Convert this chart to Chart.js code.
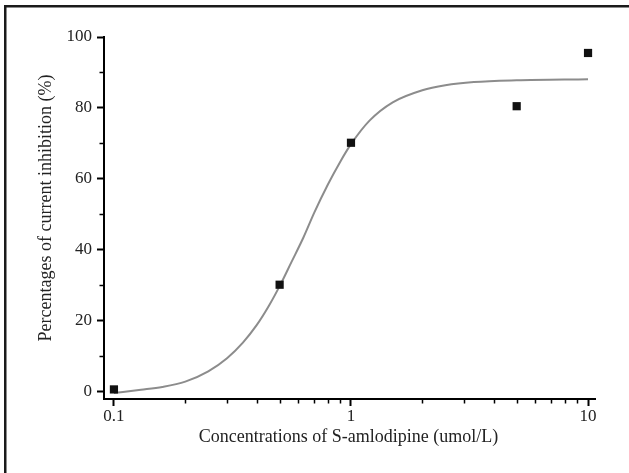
<!DOCTYPE html>
<html>
<head>
<meta charset="utf-8">
<script src="https://cdn.jsdelivr.net/npm/chart.js@4.4.1/dist/chart.umd.min.js"></script>
<style>
  html, body { margin: 0; padding: 0; background: #fff; }
  #wrap { position: relative; width: 629px; height: 473px; }
</style>
</head>
<body>
<div id="wrap"><canvas id="chart"></canvas></div>
<script>
// measured points
const concentrations = [0.1, 0.5, 1, 5, 10];
const inhibition = [0.7, 30.2, 70.2, 80.5, 95.5];

// fitted curve
const curveX = [0.1, 0.13, 0.16, 0.2, 0.25, 0.3, 0.35, 0.4, 0.45, 0.5, 0.56, 0.63, 0.7, 0.8, 0.9, 1.0, 1.2, 1.5, 2.0, 2.5, 3.3, 5, 10];
const curveY = [-0.3, 0.6, 1.4, 2.9, 5.8, 9.5, 13.9, 18.8, 24.2, 29.8, 36.5, 43.5, 50.5, 58.5, 64.8, 69.8, 76.5, 81.6, 85.0, 86.4, 87.3, 87.8, 88.1];

const xTickValues = [0.1, 1, 10];
const xTickLabels = ['0.1', '1', '10'];
const yTickValues = [0, 20, 40, 60, 80, 100];
const yTickLabels = ['0', '20', '40', '60', '80', '100'];

const xTitle = 'Concentrations of S-amlodipine (umol/L)';
const yTitle = 'Percentages of current inhibition (%)';

const serif = "'Liberation Serif', 'DejaVu Serif', serif";

// minor ticks: 2..9 in each decade, and odd tens on y
const xMinor = [];
[0.1, 1].forEach(d => { for (let k = 2; k <= 9; k++) xMinor.push(d * k); });
const yMinor = [10, 30, 50, 70, 90];

const framePlugin = {
  id: 'frame',
  beforeDraw(chart) {
    const ctx = chart.ctx;
    ctx.save();
    ctx.fillStyle = '#fff';
    ctx.fillRect(0, 0, chart.width, chart.height);
    ctx.fillStyle = '#1a1a1a';
    ctx.fillRect(4, 5, chart.width - 4, 2.5);
    ctx.fillRect(4, 5, 2.5, chart.height - 5);
    ctx.restore();
  },
  afterDraw(chart) {
    const ctx = chart.ctx;
    const xs = chart.scales.x, ys = chart.scales.y;
    const area = chart.chartArea;
    ctx.save();
    ctx.strokeStyle = '#000';
    ctx.lineWidth = 1.5;
    ctx.beginPath();
    xMinor.forEach(v => {
      const px = Math.round(xs.getPixelForValue(v)) + 0.5;
      ctx.moveTo(px, area.bottom);
      ctx.lineTo(px, area.bottom + 4.5);
    });
    yMinor.forEach(v => {
      const py = Math.round(ys.getPixelForValue(v)) + 0.5;
      ctx.moveTo(area.left, py);
      ctx.lineTo(area.left - 4.5, py);
    });
    ctx.stroke();

    // axis titles
    ctx.fillStyle = '#222';
    ctx.font = '18px ' + serif;
    ctx.textAlign = 'center';
    ctx.textBaseline = 'middle';
    ctx.fillText(xTitle, (area.left + area.right) / 2 - 1, 437);
    ctx.translate(46, 208);
    ctx.rotate(-Math.PI / 2);
    ctx.fillText(yTitle, 0, 0);
    ctx.restore();
  }
};

new Chart(document.getElementById('chart'), {
  type: 'scatter',
  data: {
    datasets: [
      {
        label: 'fit',
        data: curveX.map((x, i) => ({ x: x, y: curveY[i] })),
        showLine: true,
        borderColor: '#8c8c8c',
        borderWidth: 2,
        pointRadius: 0,
        cubicInterpolationMode: 'monotone',
        order: 2
      },
      {
        label: 'measured',
        data: concentrations.map((x, i) => ({ x: x, y: inhibition[i] })),
        pointStyle: 'rect',
        pointRadius: 5.8,
        backgroundColor: '#111',
        borderColor: '#111',
        borderWidth: 0,
        order: 1
      }
    ]
  },
  options: {
    responsive: true,
    maintainAspectRatio: false,
    animation: false,
    layout: { padding: { left: 0, right: 34, top: 37, bottom: 0 } },
    plugins: {
      legend: { display: false },
      tooltip: { enabled: false }
    },
    scales: {
      x: {
        type: 'logarithmic',
        min: 0.0908,
        max: 10.7,
        afterBuildTicks: s => { s.ticks = xTickValues.map(v => ({ value: v })); },
        afterFit: s => { s.height = 74; },
        ticks: {
          callback: v => xTickLabels[xTickValues.indexOf(v)],
          color: '#222',
          font: { family: serif, size: 17 },
          padding: 0,
          autoSkip: false,
          maxRotation: 0
        },
        grid: { display: true, drawOnChartArea: false, drawTicks: true, tickLength: 7, tickWidth: 2, tickColor: '#000' },
        border: { display: true, color: '#000', width: 2 }
      },
      y: {
        min: -2,
        max: 100,
        afterBuildTicks: s => { s.ticks = yTickValues.map(v => ({ value: v })); },
        afterFit: s => { s.width = 104; },
        ticks: {
          callback: v => yTickLabels[yTickValues.indexOf(v)],
          color: '#222',
          font: { family: serif, size: 17 },
          padding: 5
        },
        grid: { display: true, drawOnChartArea: false, drawTicks: true, tickLength: 7, tickWidth: 2, tickColor: '#000' },
        border: { display: true, color: '#000', width: 2 }
      }
    }
  },
  plugins: [framePlugin]
});
</script>
</body>
</html>
